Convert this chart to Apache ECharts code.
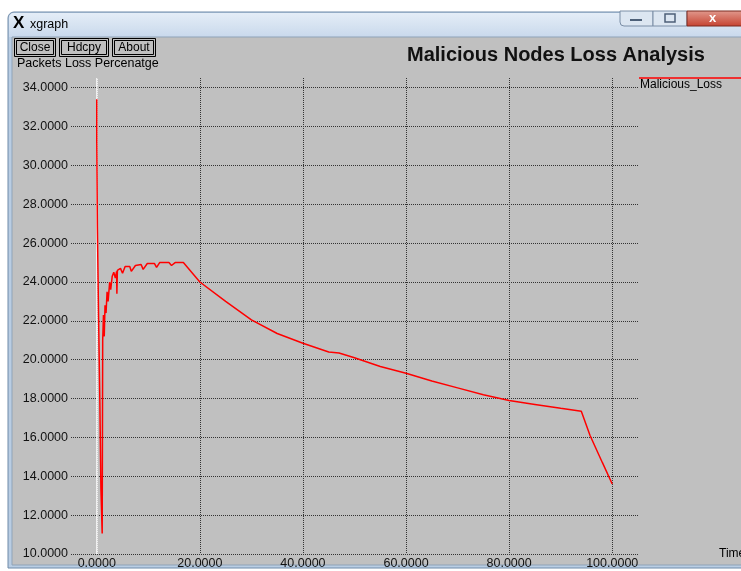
<!DOCTYPE html>
<html>
<head>
<meta charset="utf-8">
<script src="https://cdn.jsdelivr.net/npm/echarts@6/dist/echarts.min.js"></script>
<style>
  html, body { margin: 0; padding: 0; background: #fff; }
  #chart { width: 741px; height: 571px; }
</style>
</head>
<body>
<div id="chart"></div>
<script>
// xgraph output: Malicious Nodes Loss Analysis

var seriesName = 'Malicious_Loss';

// time (x) and packet loss percentage (y)
var timeValues = [
  0, 0, 0.12, 0.12, 0.35, 0.35, 0.6, 0.6, 0.8, 0.8, 1.05, 1.05,
  1.15, 1.3, 1.45, 1.6, 1.8, 2.0, 2.2, 2.5, 2.7, 3.0, 3.3, 3.6, 3.85, 3.9, 4.0,
  4.6, 5.0, 5.5, 6.4, 6.7, 7.5, 8.6, 9.0, 9.8, 11.2, 11.6, 12.2, 14.0, 14.5, 15.2, 16.8,
  20, 25, 30, 35, 40, 45, 47, 50, 55, 60, 65, 70, 75, 80, 85, 90, 94, 95.7, 98.1, 100
];
var lossValues = [
  33.4, 31.2, 31.2, 26.8, 26.8, 22.2, 22.2, 17.8, 17.8, 13.4, 13.4, 11.05,
  21.0, 22.3, 21.2, 22.8, 22.4, 23.5, 23.0, 24.0, 23.6, 24.3, 24.5, 24.2, 24.55, 23.4, 24.6,
  24.7, 24.45, 24.8, 24.8, 24.55, 24.85, 24.9, 24.65, 24.95, 24.95, 24.75, 25.0, 25.0, 24.85, 25.0, 25.0,
  24.0, 23.0, 22.05, 21.35, 20.85, 20.4, 20.35, 20.1, 19.65, 19.3, 18.9, 18.55, 18.2, 17.9, 17.7, 17.5, 17.35, 16.1, 14.7, 13.6
];

var xTicks = [0, 20, 40, 60, 80, 100];
var yTicks = [10, 12, 14, 16, 18, 20, 22, 24, 26, 28, 30, 32, 34];

var points = timeValues.map(function (t, i) { return [t, lossValues[i]]; });

var font = "'Liberation Sans', Arial, sans-serif";
var chart = echarts.init(document.getElementById('chart'));

// window chrome
function button(x, w, label) {
  return {
    type: 'group', left: x, top: 38,
    children: [
      { type: 'rect', shape: { x: 0, y: 0, width: w, height: 18 },
        style: { fill: '#c0c0c0', stroke: '#000', lineWidth: 1 } },
      { type: 'rect', shape: { x: 2, y: 2, width: w - 4, height: 14 },
        style: { fill: 'none', stroke: '#000', lineWidth: 1 } },
      { type: 'text', x: w / 2, y: 9,
        style: { text: label, font: '12px ' + font, fill: '#000', align: 'center', verticalAlign: 'middle' } }
    ]
  };
}

var option = {
  animation: false,
  backgroundColor: '#ffffff',
  title: {
    text: 'Malicious Nodes Loss Analysis',
    left: 402, top: 40,
    textStyle: { fontFamily: font, fontSize: 20, fontWeight: 'bold', color: '#111' }
  },
  grid: { left: 71, right: 103, top: 78, bottom: 17, outerBoundsMode: 'none', containLabel: false },
  xAxis: {
    type: 'value', min: -5, max: 105,
    name: 'Time', nameLocation: 'end', nameGap: 81,
    nameTextStyle: { fontFamily: font, fontSize: 12, color: '#000', verticalAlign: 'middle', align: 'left' },
    axisLine: { show: false },
    axisTick: { show: false, customValues: xTicks },
    axisLabel: {
      customValues: xTicks, margin: 3,
      fontFamily: font, fontSize: 12.5, color: '#111',
      formatter: function (v) { return v.toFixed(4); }
    },
    splitLine: { show: true, lineStyle: { color: '#333', type: [1, 1], width: 1 } }
  },
  yAxis: {
    type: 'value', min: 10, max: 34.5,
    axisLine: { show: false },
    axisTick: { show: false, customValues: yTicks },
    axisLabel: {
      customValues: yTicks, margin: 3,
      fontFamily: font, fontSize: 12.5, color: '#111',
      formatter: function (v) { return v.toFixed(4); }
    },
    splitLine: { show: true, lineStyle: { color: '#333', type: [1, 1], width: 1 } }
  },
  series: [{
    // white zero axis, kept under the trace
    type: 'line', data: [], z: 1,
    markLine: {
      z: 1,
      silent: true, symbol: 'none', label: { show: false },
      lineStyle: { color: '#ffffff', type: 'solid', width: 1.5 },
      data: [{ xAxis: 0 }]
    }
  }, {
    name: seriesName,
    type: 'line',
    data: points,
    showSymbol: false,
    z: 6,
    lineStyle: { color: '#ff0000', width: 1.5 },
    itemStyle: { color: '#ff0000' }
  }],
  graphic: [
    // window body
    { type: 'rect', z: -10, shape: { x: 8, y: 12, width: 740, height: 556, r: [6, 6, 0, 0] },
      style: { fill: '#b9cde3', stroke: '#6f8aa8', lineWidth: 1 } },
    { type: 'rect', z: -10, shape: { x: 9, y: 13, width: 740, height: 24, r: [5, 5, 0, 0] },
      style: { fill: new echarts.graphic.LinearGradient(0, 0, 0, 1, [
        { offset: 0, color: '#e4edf7' }, { offset: 1, color: '#c9d9ec' }]) } },
    { type: 'rect', z: -9, shape: { x: 12, y: 37, width: 735, height: 528 },
      style: { fill: '#c0c0c0', stroke: '#8fa3b8', lineWidth: 1 } },
    // title bar
    { type: 'text', z: 10, left: 13, top: 15,
      style: { text: 'X', font: 'bold 17px ' + font, fill: '#000' } },
    { type: 'text', z: 10, left: 30, top: 18,
      style: { text: 'xgraph', font: '12.5px ' + font, fill: '#000' } },
    { type: 'rect', z: 10, shape: { x: 620, y: 11, width: 33, height: 15, r: [0, 0, 0, 4] },
      style: { fill: '#dce6f1', stroke: '#7b8ea6', lineWidth: 1 } },
    { type: 'rect', z: 11, shape: { x: 630, y: 19, width: 12, height: 2 },
      style: { fill: '#4d6078' } },
    { type: 'rect', z: 10, shape: { x: 653, y: 11, width: 34, height: 15 },
      style: { fill: '#dce6f1', stroke: '#7b8ea6', lineWidth: 1 } },
    { type: 'rect', z: 11, shape: { x: 665, y: 14, width: 10, height: 8 },
      style: { fill: 'none', stroke: '#4d6078', lineWidth: 1.5 } },
    { type: 'rect', z: 10, shape: { x: 687, y: 11, width: 60, height: 15 },
      style: { fill: new echarts.graphic.LinearGradient(0, 0, 0, 1, [
        { offset: 0, color: '#e19a8e' }, { offset: 1, color: '#c5412f' }]), stroke: '#7a2a20', lineWidth: 1 } },
    { type: 'text', z: 11, left: 709, top: 12,
      style: { text: 'x', font: 'bold 13px ' + font, fill: '#fff' } },
    // xgraph buttons
    button(14, 41, 'Close'),
    button(59, 49, 'Hdcpy'),
    button(112, 43, 'About'),
    // y axis caption
    { type: 'text', z: 10, left: 17, top: 57,
      style: { text: 'Packets Loss Percenatge', font: '12.5px ' + font, fill: '#000' } },
    // legend
    { type: 'line', z: 10, shape: { x1: 639, y1: 78, x2: 741, y2: 78 },
      style: { stroke: '#ff0000', lineWidth: 1.5 } },
    { type: 'text', z: 10, left: 640, top: 79,
      style: { text: seriesName, font: '12px ' + font, fill: '#000' } }
  ]
};

chart.setOption(option);
</script>
</body>
</html>
